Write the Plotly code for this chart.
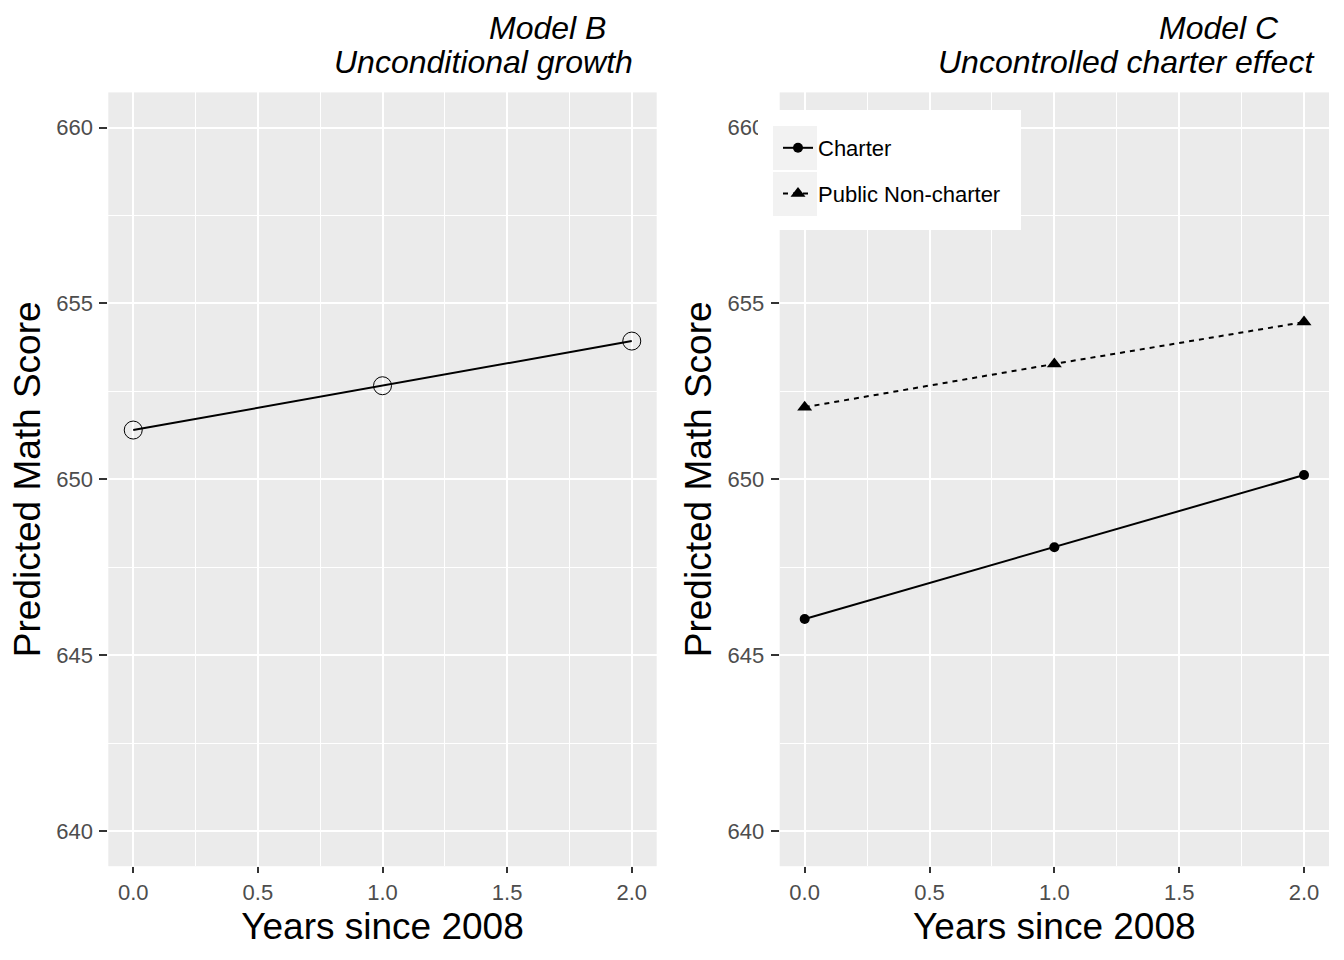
import plotly.graph_objects as go

# ---- data ----
years = [0, 1, 2]
model_b_score = [651.40, 652.66, 653.93]
charter_score = [646.03, 648.07, 650.12]
public_score = [652.05, 653.28, 654.47]

y_ticks = [640, 645, 650, 655, 660]
x_ticks = [0.0, 0.5, 1.0, 1.5, 2.0]
x_tick_labels = ["0.0", "0.5", "1.0", "1.5", "2.0"]

title_b = ["Model B", "Unconditional growth"]
title_c = ["Model C", "Uncontrolled charter effect"]
legend_names = ["Charter", "Public Non-charter"]

W, H = 1344, 960
FONT = "Arial, Liberation Sans, sans-serif"
PANEL = "#EBEBEB"

fig = go.Figure()

fig.add_trace(go.Scatter(
    x=years, y=model_b_score, mode="lines+markers",
    line=dict(color="black", width=2),
    marker=dict(symbol="circle-open", size=18, color="black", line=dict(width=1)),
    showlegend=False, xaxis="x", yaxis="y"))

fig.add_trace(go.Scatter(
    x=years, y=charter_score, mode="lines+markers", name=legend_names[0],
    line=dict(color="black", width=2),
    marker=dict(symbol="circle", size=10, color="black"),
    legendgroup="a", xaxis="x2", yaxis="y2"))

fig.add_trace(go.Scatter(
    x=years, y=public_score, mode="lines+markers", name=legend_names[1],
    line=dict(color="black", width=2, dash="5px,5px"),
    marker=dict(symbol="triangle-up", size=13, color="black"),
    legendgroup="b", xaxis="x2", yaxis="y2"))


def px(v):
    return v / W


def py(v):
    return 1 - v / H


xdom1 = [px(108.3), px(656.7)]
xdom2 = [px(779.7), px(1329)]
ydom = [py(866.2), py(92.4)]

common_x = dict(
    range=[-0.1, 2.1], tickvals=x_ticks, ticktext=x_tick_labels,
    showgrid=True, gridcolor="white", gridwidth=2.4,
    minor=dict(dtick=0.25, tick0=0.25, showgrid=True, gridcolor="white", gridwidth=1.2, ticks=""),
    ticks="outside", ticklen=6, tickwidth=2, tickcolor="#333333",
    tickfont=dict(family=FONT, size=22, color="#4D4D4D"),
    zeroline=False, showline=False,
    title=dict(text="Years since 2008", font=dict(family=FONT, size=37, color="black"), standoff=9),
)
common_y = dict(
    range=[639, 661], tickvals=y_ticks,
    showgrid=True, gridcolor="white", gridwidth=2.4,
    minor=dict(dtick=2.5, tick0=642.5, showgrid=True, gridcolor="white", gridwidth=1.2, ticks=""),
    ticks="outside", ticklen=8, tickwidth=2, tickcolor="#333333",
    tickfont=dict(family=FONT, size=22, color="#4D4D4D"),
    ticklabelstandoff=2,
    zeroline=False, showline=False,
    title=dict(text="Predicted Math Score", font=dict(family=FONT, size=37, color="black"), standoff=4),
    domain=ydom,
)

fig.update_layout(
    width=W, height=H,
    margin=dict(l=0, r=0, t=0, b=0),
    paper_bgcolor="white",
    plot_bgcolor=PANEL,
    font=dict(family=FONT, color="black"),
    xaxis=dict(common_x, domain=xdom1, anchor="y"),
    yaxis=dict(common_y, anchor="x"),
    xaxis2=dict(common_x, domain=xdom2, anchor="y2"),
    yaxis2=dict(common_y, anchor="x2"),
    legend=dict(
        x=px(778), y=py(127), xanchor="left", yanchor="top",
        bgcolor="rgba(0,0,0,0)", borderwidth=0,
        font=dict(family=FONT, size=22, color="black"),
        tracegroupgap=14, itemwidth=30,
    ),
    showlegend=True,
)

# legend box background & key backgrounds (drawn above axes to mimic ggplot's legend)
fig.add_shape(type="rect", xref="paper", yref="paper", layer="above",
              x0=px(758), x1=px(1021), y0=py(230), y1=py(110),
              fillcolor="white", line=dict(width=0))
for top, bot in [(126, 170), (172, 216)]:
    fig.add_shape(type="rect", xref="paper", yref="paper", layer="above",
                  x0=px(773), x1=px(817), y0=py(bot), y1=py(top),
                  fillcolor="#F2F2F2", line=dict(width=0))

# panel titles (two lines, right-aligned)
title_specs = [
    (title_b[0], 608, 28), (title_b[1], 635, 62),
    (title_c[0], 1281, 28), (title_c[1], 1316, 62),
]
for txt, xr, yc in title_specs:
    fig.add_annotation(text="<i>" + txt + "</i>", xref="paper", yref="paper",
                       x=px(xr), y=py(yc), xanchor="right", yanchor="middle",
                       showarrow=False, font=dict(family=FONT, size=32, color="black"))

fig.write_html("out.html", config={"displayModeBar": False},
               post_script="document.body.style.margin='0';")
